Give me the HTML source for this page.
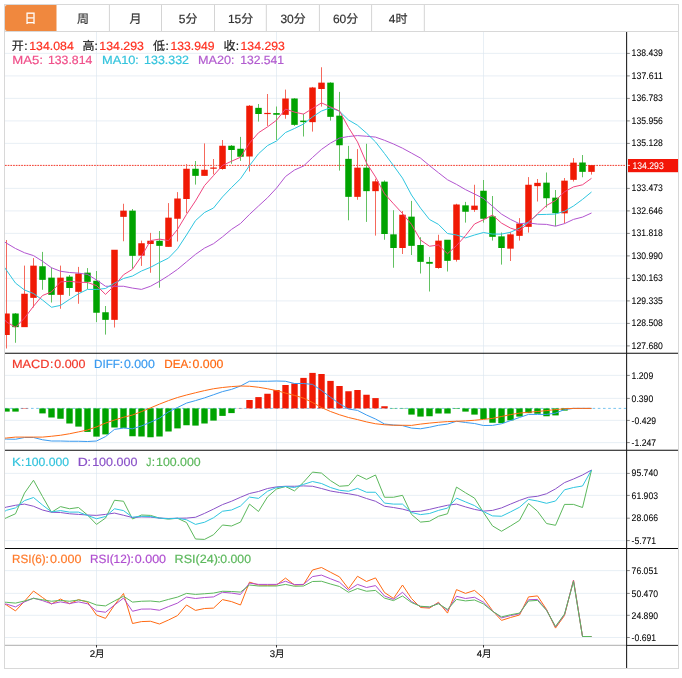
<!DOCTYPE html>
<html lang="zh-CN">
<head>
<meta charset="utf-8">
<title>K线图</title>
<style>
html,body{margin:0;padding:0;background:#fff;}
body{width:682px;height:678px;overflow:hidden;}
svg{display:block;}
text{font-family:"Liberation Sans", "Noto Sans CJK SC", sans-serif;text-rendering:geometricPrecision;}
.t12{font-size:12px;}
.t12 text{stroke-width:0.2px;}
.ax{font-size:9.6px;fill:#000;stroke:#000;stroke-width:0.07px;}
.grid line{stroke:#dce7ef;stroke-width:0.65;}
.ln{fill:none;stroke-width:1;stroke-linejoin:round;}
</style>
</head>
<body>
<svg width="682" height="678" viewBox="0 0 682 678">
<defs><clipPath id="plot"><rect x="5" y="32" width="621" height="613"/></clipPath></defs>
<rect x="0" y="0" width="682" height="678" fill="#ffffff"/>

<rect x="4.5" y="4.5" width="674" height="664" fill="none" stroke="#d8d8d8" stroke-width="1"/>
<g id="tabs">
<path d="M5 7 Q5 5 7 5 H56.5 V31 H7 Q5 31 5 29 Z" fill="#f0883e"/>
<line x1="5" y1="31.5" x2="678" y2="31.5" stroke="#d8d8d8" stroke-width="1"/>
<line x1="109.40" y1="5" x2="109.40" y2="31" stroke="#d4d4d4" stroke-width="1"/>
<line x1="161.50" y1="5" x2="161.50" y2="31" stroke="#d4d4d4" stroke-width="1"/>
<line x1="214.50" y1="5" x2="214.50" y2="31" stroke="#d4d4d4" stroke-width="1"/>
<line x1="266.30" y1="5" x2="266.30" y2="31" stroke="#d4d4d4" stroke-width="1"/>
<line x1="319.40" y1="5" x2="319.40" y2="31" stroke="#d4d4d4" stroke-width="1"/>
<line x1="371.60" y1="5" x2="371.60" y2="31" stroke="#d4d4d4" stroke-width="1"/>
<line x1="424.30" y1="5" x2="424.30" y2="31" stroke="#d4d4d4" stroke-width="1"/>
<text transform="translate(30.6 23.0) scale(1 1.1)" x="0" y="0" text-anchor="middle" class="t12" fill="#ffffff" stroke="#ffffff" stroke-width="0.2">日</text>
<text x="83.1" y="22.6" text-anchor="middle" class="t12" fill="#333333" stroke="#333333" stroke-width="0.2">周</text>
<text x="135.6" y="22.6" text-anchor="middle" class="t12" fill="#333333" stroke="#333333" stroke-width="0.2">月</text>
<text x="188.1" y="22.6" text-anchor="middle" class="t12" fill="#333333" stroke="#333333" stroke-width="0.2">5分</text>
<text x="240.6" y="22.6" text-anchor="middle" class="t12" fill="#333333" stroke="#333333" stroke-width="0.2">15分</text>
<text x="293.1" y="22.6" text-anchor="middle" class="t12" fill="#333333" stroke="#333333" stroke-width="0.2">30分</text>
<text x="345.6" y="22.6" text-anchor="middle" class="t12" fill="#333333" stroke="#333333" stroke-width="0.2">60分</text>
<text x="398.1" y="22.6" text-anchor="middle" class="t12" fill="#333333" stroke="#333333" stroke-width="0.2">4时</text>
</g>
<g class="grid">
<line x1="5" y1="53.40" x2="625.5" y2="53.40"/>
<line x1="5" y1="75.90" x2="625.5" y2="75.90"/>
<line x1="5" y1="98.40" x2="625.5" y2="98.40"/>
<line x1="5" y1="120.90" x2="625.5" y2="120.90"/>
<line x1="5" y1="143.40" x2="625.5" y2="143.40"/>
<line x1="5" y1="188.40" x2="625.5" y2="188.40"/>
<line x1="5" y1="210.90" x2="625.5" y2="210.90"/>
<line x1="5" y1="233.40" x2="625.5" y2="233.40"/>
<line x1="5" y1="255.90" x2="625.5" y2="255.90"/>
<line x1="5" y1="278.40" x2="625.5" y2="278.40"/>
<line x1="5" y1="300.90" x2="625.5" y2="300.90"/>
<line x1="5" y1="323.40" x2="625.5" y2="323.40"/>
<line x1="5" y1="345.90" x2="625.5" y2="345.90"/>
<line x1="5" y1="375.40" x2="625.5" y2="375.40"/>
<line x1="5" y1="398.40" x2="625.5" y2="398.40"/>
<line x1="5" y1="420.40" x2="625.5" y2="420.40"/>
<line x1="5" y1="442.60" x2="625.5" y2="442.60"/>
<line x1="5" y1="473.40" x2="625.5" y2="473.40"/>
<line x1="5" y1="495.40" x2="625.5" y2="495.40"/>
<line x1="5" y1="518.20" x2="625.5" y2="518.20"/>
<line x1="5" y1="540.60" x2="625.5" y2="540.60"/>
<line x1="5" y1="570.60" x2="625.5" y2="570.60"/>
<line x1="5" y1="593.40" x2="625.5" y2="593.40"/>
<line x1="5" y1="615.30" x2="625.5" y2="615.30"/>
<line x1="5" y1="637.50" x2="625.5" y2="637.50"/>
<line x1="96.5" y1="32" x2="96.5" y2="645"/>
<line x1="276.5" y1="32" x2="276.5" y2="645"/>
<line x1="483.5" y1="32" x2="483.5" y2="645"/>
</g>
<line x1="5" y1="165.4" x2="626" y2="165.4" stroke="#f23a2c" stroke-width="1" stroke-dasharray="1.7 1.0"/>
<g clip-path="url(#plot)">
<g id="candles">
<line x1="6.5" y1="240.00" x2="6.5" y2="348.50" stroke="#f5695c" stroke-width="1"/>
<rect x="3.25" y="313.50" width="6.5" height="21.50" fill="#f01a05"/>
<line x1="15.5" y1="313.00" x2="15.5" y2="342.75" stroke="#62c162" stroke-width="1"/>
<rect x="12.25" y="313.50" width="6.5" height="13.65" fill="#00a300"/>
<line x1="24.5" y1="265.60" x2="24.5" y2="326.90" stroke="#f5695c" stroke-width="1"/>
<rect x="21.25" y="293.75" width="6.5" height="33.40" fill="#f01a05"/>
<line x1="33.5" y1="258.10" x2="33.5" y2="307.50" stroke="#f5695c" stroke-width="1"/>
<rect x="30.25" y="265.65" width="6.5" height="32.20" fill="#f01a05"/>
<line x1="42.5" y1="251.90" x2="42.5" y2="289.75" stroke="#62c162" stroke-width="1"/>
<rect x="39.25" y="266.25" width="6.5" height="13.60" fill="#00a300"/>
<line x1="51.5" y1="267.50" x2="51.5" y2="302.50" stroke="#62c162" stroke-width="1"/>
<rect x="48.25" y="277.65" width="6.5" height="17.20" fill="#00a300"/>
<line x1="60.5" y1="265.60" x2="60.5" y2="308.75" stroke="#f5695c" stroke-width="1"/>
<rect x="57.25" y="277.65" width="6.5" height="17.20" fill="#f01a05"/>
<line x1="69.5" y1="275.00" x2="69.5" y2="295.90" stroke="#62c162" stroke-width="1"/>
<rect x="66.25" y="276.65" width="6.5" height="11.35" fill="#00a300"/>
<line x1="78.5" y1="266.90" x2="78.5" y2="303.75" stroke="#f5695c" stroke-width="1"/>
<rect x="75.25" y="273.50" width="6.5" height="18.35" fill="#f01a05"/>
<line x1="87.5" y1="268.10" x2="87.5" y2="289.00" stroke="#62c162" stroke-width="1"/>
<rect x="84.25" y="272.65" width="6.5" height="9.20" fill="#00a300"/>
<line x1="96.5" y1="271.00" x2="96.5" y2="322.10" stroke="#62c162" stroke-width="1"/>
<rect x="93.25" y="280.75" width="6.5" height="32.00" fill="#00a300"/>
<line x1="105.5" y1="306.00" x2="105.5" y2="334.60" stroke="#62c162" stroke-width="1"/>
<rect x="102.25" y="312.25" width="6.5" height="7.60" fill="#00a300"/>
<line x1="114.5" y1="250.00" x2="114.5" y2="327.50" stroke="#f5695c" stroke-width="1"/>
<rect x="111.25" y="249.75" width="6.5" height="70.10" fill="#f01a05"/>
<line x1="123.5" y1="203.75" x2="123.5" y2="241.25" stroke="#f5695c" stroke-width="1"/>
<rect x="120.25" y="210.65" width="6.5" height="6.20" fill="#f01a05"/>
<line x1="132.5" y1="209.00" x2="132.5" y2="268.75" stroke="#62c162" stroke-width="1"/>
<rect x="129.25" y="210.65" width="6.5" height="45.20" fill="#00a300"/>
<line x1="141.5" y1="240.60" x2="141.5" y2="265.90" stroke="#f5695c" stroke-width="1"/>
<rect x="138.25" y="243.25" width="6.5" height="12.40" fill="#f01a05"/>
<line x1="150.5" y1="232.90" x2="150.5" y2="272.75" stroke="#f5695c" stroke-width="1"/>
<rect x="147.25" y="240.75" width="6.5" height="3.25" fill="#f01a05"/>
<line x1="159.5" y1="231.00" x2="159.5" y2="287.75" stroke="#62c162" stroke-width="1"/>
<rect x="156.25" y="240.75" width="6.5" height="5.10" fill="#00a300"/>
<line x1="168.5" y1="203.10" x2="168.5" y2="246.60" stroke="#f5695c" stroke-width="1"/>
<rect x="165.25" y="217.65" width="6.5" height="29.20" fill="#f01a05"/>
<line x1="177.5" y1="192.10" x2="177.5" y2="241.50" stroke="#f5695c" stroke-width="1"/>
<rect x="174.25" y="198.50" width="6.5" height="20.25" fill="#f01a05"/>
<line x1="186.5" y1="164.00" x2="186.5" y2="213.10" stroke="#f5695c" stroke-width="1"/>
<rect x="183.25" y="168.75" width="6.5" height="30.25" fill="#f01a05"/>
<line x1="195.5" y1="161.00" x2="195.5" y2="184.60" stroke="#62c162" stroke-width="1"/>
<rect x="192.25" y="168.75" width="6.5" height="7.10" fill="#00a300"/>
<line x1="204.5" y1="143.40" x2="204.5" y2="175.60" stroke="#f5695c" stroke-width="1"/>
<rect x="201.25" y="169.75" width="6.5" height="6.10" fill="#f01a05"/>
<line x1="213.5" y1="159.00" x2="213.5" y2="174.40" stroke="#f5695c" stroke-width="1"/>
<rect x="210.25" y="167.50" width="6.5" height="1.25" fill="#f01a05"/>
<line x1="222.5" y1="140.00" x2="222.5" y2="169.75" stroke="#f5695c" stroke-width="1"/>
<rect x="219.25" y="145.75" width="6.5" height="23.25" fill="#f01a05"/>
<line x1="231.5" y1="145.00" x2="231.5" y2="163.75" stroke="#62c162" stroke-width="1"/>
<rect x="228.25" y="145.75" width="6.5" height="4.25" fill="#00a300"/>
<line x1="240.5" y1="136.90" x2="240.5" y2="160.90" stroke="#62c162" stroke-width="1"/>
<rect x="237.25" y="148.75" width="6.5" height="8.00" fill="#00a300"/>
<line x1="249.5" y1="105.00" x2="249.5" y2="171.50" stroke="#f5695c" stroke-width="1"/>
<rect x="246.25" y="105.75" width="6.5" height="50.75" fill="#f01a05"/>
<line x1="258.5" y1="104.00" x2="258.5" y2="121.60" stroke="#62c162" stroke-width="1"/>
<rect x="255.25" y="107.85" width="6.5" height="6.15" fill="#00a300"/>
<line x1="267.5" y1="94.00" x2="267.5" y2="125.90" stroke="#f5695c" stroke-width="1"/>
<rect x="264.25" y="112.90" width="6.5" height="1.20" fill="#f01a05"/>
<line x1="276.5" y1="106.50" x2="276.5" y2="140.00" stroke="#62c162" stroke-width="1"/>
<rect x="273.25" y="113.10" width="6.5" height="1.65" fill="#00a300"/>
<line x1="285.5" y1="89.60" x2="285.5" y2="118.75" stroke="#f5695c" stroke-width="1"/>
<rect x="282.25" y="98.50" width="6.5" height="16.35" fill="#f01a05"/>
<line x1="294.5" y1="98.10" x2="294.5" y2="125.90" stroke="#62c162" stroke-width="1"/>
<rect x="291.25" y="98.50" width="6.5" height="26.35" fill="#00a300"/>
<line x1="303.5" y1="113.75" x2="303.5" y2="136.50" stroke="#62c162" stroke-width="1"/>
<rect x="300.25" y="120.60" width="6.5" height="1.50" fill="#00a300"/>
<line x1="312.5" y1="86.90" x2="312.5" y2="131.60" stroke="#f5695c" stroke-width="1"/>
<rect x="309.25" y="87.50" width="6.5" height="34.65" fill="#f01a05"/>
<line x1="321.5" y1="67.25" x2="321.5" y2="106.60" stroke="#f5695c" stroke-width="1"/>
<rect x="318.25" y="82.65" width="6.5" height="6.35" fill="#f01a05"/>
<line x1="330.5" y1="82.25" x2="330.5" y2="120.60" stroke="#62c162" stroke-width="1"/>
<rect x="327.25" y="82.65" width="6.5" height="34.20" fill="#00a300"/>
<line x1="339.5" y1="91.90" x2="339.5" y2="170.60" stroke="#62c162" stroke-width="1"/>
<rect x="336.25" y="115.65" width="6.5" height="29.60" fill="#00a300"/>
<line x1="348.5" y1="145.90" x2="348.5" y2="220.30" stroke="#62c162" stroke-width="1"/>
<rect x="345.25" y="158.85" width="6.5" height="38.00" fill="#00a300"/>
<line x1="357.5" y1="149.10" x2="357.5" y2="199.75" stroke="#f5695c" stroke-width="1"/>
<rect x="354.25" y="167.65" width="6.5" height="29.20" fill="#f01a05"/>
<line x1="366.5" y1="143.75" x2="366.5" y2="221.90" stroke="#62c162" stroke-width="1"/>
<rect x="363.25" y="167.65" width="6.5" height="23.50" fill="#00a300"/>
<line x1="375.5" y1="178.75" x2="375.5" y2="235.60" stroke="#f5695c" stroke-width="1"/>
<rect x="372.25" y="181.35" width="6.5" height="9.80" fill="#f01a05"/>
<line x1="384.5" y1="180.40" x2="384.5" y2="239.75" stroke="#62c162" stroke-width="1"/>
<rect x="381.25" y="181.65" width="6.5" height="52.35" fill="#00a300"/>
<line x1="393.5" y1="210.20" x2="393.5" y2="267.75" stroke="#62c162" stroke-width="1"/>
<rect x="390.25" y="234.35" width="6.5" height="13.65" fill="#00a300"/>
<line x1="402.5" y1="211.00" x2="402.5" y2="254.00" stroke="#f5695c" stroke-width="1"/>
<rect x="399.25" y="214.75" width="6.5" height="33.25" fill="#f01a05"/>
<line x1="411.5" y1="200.90" x2="411.5" y2="255.00" stroke="#62c162" stroke-width="1"/>
<rect x="408.25" y="216.65" width="6.5" height="29.20" fill="#00a300"/>
<line x1="420.5" y1="237.25" x2="420.5" y2="273.50" stroke="#62c162" stroke-width="1"/>
<rect x="417.25" y="245.00" width="6.5" height="16.85" fill="#00a300"/>
<line x1="429.5" y1="256.90" x2="429.5" y2="291.50" stroke="#62c162" stroke-width="1"/>
<rect x="426.25" y="261.90" width="6.5" height="1.85" fill="#00a300"/>
<line x1="438.5" y1="234.75" x2="438.5" y2="268.75" stroke="#f5695c" stroke-width="1"/>
<rect x="435.25" y="240.65" width="6.5" height="27.35" fill="#f01a05"/>
<line x1="447.5" y1="240.00" x2="447.5" y2="271.50" stroke="#62c162" stroke-width="1"/>
<rect x="444.25" y="239.75" width="6.5" height="21.10" fill="#00a300"/>
<line x1="456.5" y1="203.75" x2="456.5" y2="261.60" stroke="#f5695c" stroke-width="1"/>
<rect x="453.25" y="204.50" width="6.5" height="55.35" fill="#f01a05"/>
<line x1="465.5" y1="201.90" x2="465.5" y2="222.60" stroke="#62c162" stroke-width="1"/>
<rect x="462.25" y="205.35" width="6.5" height="6.40" fill="#00a300"/>
<line x1="474.5" y1="184.75" x2="474.5" y2="211.90" stroke="#f5695c" stroke-width="1"/>
<rect x="471.25" y="205.65" width="6.5" height="4.20" fill="#f01a05"/>
<line x1="483.5" y1="180.00" x2="483.5" y2="222.60" stroke="#62c162" stroke-width="1"/>
<rect x="480.25" y="190.75" width="6.5" height="28.00" fill="#00a300"/>
<line x1="492.5" y1="196.00" x2="492.5" y2="240.60" stroke="#62c162" stroke-width="1"/>
<rect x="489.25" y="216.35" width="6.5" height="20.50" fill="#00a300"/>
<line x1="501.5" y1="232.50" x2="501.5" y2="264.60" stroke="#62c162" stroke-width="1"/>
<rect x="498.25" y="236.35" width="6.5" height="11.65" fill="#00a300"/>
<line x1="510.5" y1="231.90" x2="510.5" y2="261.00" stroke="#f5695c" stroke-width="1"/>
<rect x="507.25" y="234.35" width="6.5" height="14.30" fill="#f01a05"/>
<line x1="519.5" y1="218.10" x2="519.5" y2="240.60" stroke="#f5695c" stroke-width="1"/>
<rect x="516.25" y="223.50" width="6.5" height="12.35" fill="#f01a05"/>
<line x1="528.5" y1="177.10" x2="528.5" y2="232.60" stroke="#f5695c" stroke-width="1"/>
<rect x="525.25" y="184.75" width="6.5" height="42.10" fill="#f01a05"/>
<line x1="537.5" y1="179.00" x2="537.5" y2="201.50" stroke="#f5695c" stroke-width="1"/>
<rect x="534.25" y="182.85" width="6.5" height="3.30" fill="#f01a05"/>
<line x1="546.5" y1="172.50" x2="546.5" y2="207.50" stroke="#62c162" stroke-width="1"/>
<rect x="543.25" y="182.65" width="6.5" height="15.60" fill="#00a300"/>
<line x1="555.5" y1="190.00" x2="555.5" y2="226.20" stroke="#62c162" stroke-width="1"/>
<rect x="552.25" y="197.65" width="6.5" height="15.50" fill="#00a300"/>
<line x1="564.5" y1="178.00" x2="564.5" y2="223.50" stroke="#f5695c" stroke-width="1"/>
<rect x="561.25" y="180.65" width="6.5" height="32.70" fill="#f01a05"/>
<line x1="573.5" y1="158.10" x2="573.5" y2="181.50" stroke="#f5695c" stroke-width="1"/>
<rect x="570.25" y="162.65" width="6.5" height="17.20" fill="#f01a05"/>
<line x1="582.5" y1="155.00" x2="582.5" y2="177.25" stroke="#62c162" stroke-width="1"/>
<rect x="579.25" y="162.50" width="6.5" height="9.35" fill="#00a300"/>
<line x1="591.5" y1="165.40" x2="591.5" y2="174.60" stroke="#f5695c" stroke-width="1"/>
<rect x="588.25" y="165.15" width="6.5" height="6.70" fill="#f01a05"/>
</g>
<polyline class="ln" stroke="#b255d0" points="-2.5,237.00 6.5,243.20 15.5,248.50 24.5,252.75 33.5,255.60 42.5,261.25 51.5,267.75 60.5,271.25 69.5,272.50 78.5,273.10 87.5,274.40 96.5,280.00 105.5,286.25 114.5,286.25 123.5,286.25 132.5,288.10 141.5,289.40 150.5,286.25 159.5,281.25 168.5,275.60 177.5,269.35 186.5,261.85 195.5,254.35 204.5,248.10 213.5,243.70 222.5,236.85 231.5,229.40 240.5,223.50 249.5,214.40 258.5,206.00 267.5,197.75 276.5,188.10 285.5,176.50 294.5,170.00 303.5,166.00 312.5,157.50 321.5,149.40 330.5,143.10 339.5,138.10 348.5,136.50 357.5,135.60 366.5,136.25 375.5,137.10 384.5,140.30 393.5,144.00 402.5,148.20 411.5,153.10 420.5,158.10 429.5,165.60 438.5,172.75 447.5,179.75 456.5,184.40 465.5,189.60 474.5,194.00 483.5,198.50 492.5,206.25 501.5,214.10 510.5,219.40 519.5,223.75 528.5,222.90 537.5,224.10 546.5,224.40 555.5,226.20 564.5,223.60 573.5,219.40 582.5,217.10 591.5,213.00"/>
<polyline class="ln" stroke="#2fc6e0" points="-2.5,257.40 6.5,270.25 15.5,283.10 24.5,290.00 33.5,293.50 42.5,300.00 51.5,307.25 60.5,305.40 69.5,299.40 78.5,293.75 87.5,289.40 96.5,289.40 105.5,288.50 114.5,283.10 123.5,278.50 132.5,276.00 141.5,271.00 150.5,267.30 159.5,262.50 168.5,258.10 177.5,248.75 186.5,235.00 195.5,220.60 204.5,212.50 213.5,208.00 222.5,196.90 231.5,187.50 240.5,178.75 249.5,165.60 258.5,153.75 267.5,145.60 276.5,141.00 285.5,132.50 294.5,128.50 303.5,124.00 312.5,116.90 321.5,111.00 330.5,107.75 339.5,111.25 348.5,120.00 357.5,125.25 366.5,133.10 375.5,141.90 384.5,153.50 393.5,165.60 402.5,178.10 411.5,195.00 420.5,208.10 429.5,219.50 438.5,224.40 447.5,233.50 456.5,235.00 465.5,237.90 474.5,235.00 483.5,232.50 492.5,234.10 501.5,234.10 510.5,232.25 519.5,228.10 528.5,221.90 537.5,214.60 546.5,214.40 555.5,214.00 564.5,211.25 573.5,206.00 582.5,199.40 591.5,192.00"/>
<polyline class="ln" stroke="#f0457f" points="-2.5,310.50 6.5,322.00 15.5,327.25 24.5,318.10 33.5,306.25 42.5,295.50 51.5,291.90 60.5,281.90 69.5,281.25 78.5,282.25 87.5,282.50 96.5,285.60 105.5,294.40 114.5,285.60 123.5,274.75 132.5,269.25 141.5,256.25 150.5,240.60 159.5,239.10 168.5,240.60 177.5,229.40 186.5,214.40 195.5,200.90 204.5,185.60 213.5,175.60 222.5,165.40 231.5,161.25 240.5,157.25 249.5,143.10 258.5,132.75 267.5,126.90 276.5,120.25 285.5,109.10 294.5,112.10 303.5,114.10 312.5,108.50 321.5,102.90 330.5,106.90 339.5,111.00 348.5,127.50 357.5,141.90 366.5,162.90 375.5,176.90 384.5,193.75 393.5,203.75 402.5,213.50 411.5,224.40 420.5,240.00 429.5,246.25 438.5,245.00 447.5,253.75 456.5,245.60 465.5,235.60 474.5,224.00 483.5,219.75 492.5,215.00 501.5,223.10 510.5,228.10 519.5,231.00 528.5,222.75 537.5,213.75 546.5,205.50 555.5,200.50 564.5,191.80 573.5,186.90 582.5,184.80 591.5,178.30"/>
<g id="macd">
<line x1="5" y1="408.4" x2="626" y2="408.4" stroke="#6bbdec" stroke-width="0.9" stroke-dasharray="2.6 2.6"/>
<rect x="3.30" y="408.40" width="6.4" height="3.20" fill="#00a300"/>
<rect x="12.30" y="408.40" width="6.4" height="3.20" fill="#00a300"/>
<rect x="21.30" y="408.00" width="6.4" height="0.40" fill="#f01a05"/>
<rect x="39.30" y="408.40" width="6.4" height="5.00" fill="#00a300"/>
<rect x="48.30" y="408.40" width="6.4" height="9.10" fill="#00a300"/>
<rect x="57.30" y="408.40" width="6.4" height="10.35" fill="#00a300"/>
<rect x="66.30" y="408.40" width="6.4" height="15.10" fill="#00a300"/>
<rect x="75.30" y="408.40" width="6.4" height="18.20" fill="#00a300"/>
<rect x="84.30" y="408.40" width="6.4" height="23.50" fill="#00a300"/>
<rect x="93.30" y="408.40" width="6.4" height="28.20" fill="#00a300"/>
<rect x="102.30" y="408.40" width="6.4" height="26.00" fill="#00a300"/>
<rect x="111.30" y="408.40" width="6.4" height="19.10" fill="#00a300"/>
<rect x="120.30" y="408.40" width="6.4" height="19.50" fill="#00a300"/>
<rect x="129.30" y="408.40" width="6.4" height="27.85" fill="#00a300"/>
<rect x="138.30" y="408.40" width="6.4" height="28.10" fill="#00a300"/>
<rect x="147.30" y="408.40" width="6.4" height="28.85" fill="#00a300"/>
<rect x="156.30" y="408.40" width="6.4" height="28.10" fill="#00a300"/>
<rect x="165.30" y="408.40" width="6.4" height="23.10" fill="#00a300"/>
<rect x="174.30" y="408.40" width="6.4" height="20.00" fill="#00a300"/>
<rect x="183.30" y="408.40" width="6.4" height="16.85" fill="#00a300"/>
<rect x="192.30" y="408.40" width="6.4" height="17.20" fill="#00a300"/>
<rect x="201.30" y="408.40" width="6.4" height="15.10" fill="#00a300"/>
<rect x="210.30" y="408.40" width="6.4" height="12.20" fill="#00a300"/>
<rect x="219.30" y="408.40" width="6.4" height="7.50" fill="#00a300"/>
<rect x="228.30" y="408.40" width="6.4" height="4.70" fill="#00a300"/>
<rect x="237.30" y="408.20" width="6.4" height="0.20" fill="#f01a05"/>
<rect x="246.30" y="400.00" width="6.4" height="8.40" fill="#f01a05"/>
<rect x="255.30" y="397.10" width="6.4" height="11.30" fill="#f01a05"/>
<rect x="264.30" y="393.75" width="6.4" height="14.65" fill="#f01a05"/>
<rect x="273.30" y="390.00" width="6.4" height="18.40" fill="#f01a05"/>
<rect x="282.30" y="385.00" width="6.4" height="23.40" fill="#f01a05"/>
<rect x="291.30" y="383.50" width="6.4" height="24.90" fill="#f01a05"/>
<rect x="300.30" y="377.90" width="6.4" height="30.50" fill="#f01a05"/>
<rect x="309.30" y="372.90" width="6.4" height="35.50" fill="#f01a05"/>
<rect x="318.30" y="374.00" width="6.4" height="34.40" fill="#f01a05"/>
<rect x="327.30" y="380.90" width="6.4" height="27.50" fill="#f01a05"/>
<rect x="336.30" y="386.00" width="6.4" height="22.40" fill="#f01a05"/>
<rect x="345.30" y="391.25" width="6.4" height="17.15" fill="#f01a05"/>
<rect x="354.30" y="390.00" width="6.4" height="18.40" fill="#f01a05"/>
<rect x="363.30" y="394.75" width="6.4" height="13.65" fill="#f01a05"/>
<rect x="372.30" y="398.10" width="6.4" height="10.30" fill="#f01a05"/>
<rect x="381.30" y="406.25" width="6.4" height="2.15" fill="#f01a05"/>
<rect x="390.30" y="408.40" width="6.4" height="0.30" fill="#00a300"/>
<rect x="399.30" y="408.40" width="6.4" height="0.30" fill="#00a300"/>
<rect x="408.30" y="408.40" width="6.4" height="6.20" fill="#00a300"/>
<rect x="417.30" y="408.40" width="6.4" height="8.20" fill="#00a300"/>
<rect x="426.30" y="408.40" width="6.4" height="7.85" fill="#00a300"/>
<rect x="435.30" y="408.40" width="6.4" height="5.10" fill="#00a300"/>
<rect x="444.30" y="408.40" width="6.4" height="5.10" fill="#00a300"/>
<rect x="453.30" y="408.40" width="6.4" height="0.50" fill="#00a300"/>
<rect x="462.30" y="408.40" width="6.4" height="3.20" fill="#00a300"/>
<rect x="471.30" y="408.40" width="6.4" height="6.20" fill="#00a300"/>
<rect x="480.30" y="408.40" width="6.4" height="10.60" fill="#00a300"/>
<rect x="489.30" y="408.40" width="6.4" height="14.35" fill="#00a300"/>
<rect x="498.30" y="408.40" width="6.4" height="14.70" fill="#00a300"/>
<rect x="507.30" y="408.40" width="6.4" height="12.00" fill="#00a300"/>
<rect x="516.30" y="408.40" width="6.4" height="8.20" fill="#00a300"/>
<rect x="525.30" y="408.40" width="6.4" height="4.70" fill="#00a300"/>
<rect x="534.30" y="408.40" width="6.4" height="5.35" fill="#00a300"/>
<rect x="543.30" y="408.40" width="6.4" height="7.85" fill="#00a300"/>
<rect x="552.30" y="408.40" width="6.4" height="7.00" fill="#00a300"/>
<rect x="561.30" y="408.40" width="6.4" height="2.20" fill="#00a300"/>
<polyline class="ln" stroke="#3a9bf0" points="-2.5,439.00 6.5,439.10 15.5,439.25 24.5,437.50 33.5,437.50 42.5,439.75 51.5,441.00 60.5,441.00 69.5,441.25 78.5,441.25 87.5,441.50 96.5,441.00 105.5,436.60 114.5,429.40 123.5,428.10 132.5,428.75 141.5,425.90 150.5,422.25 159.5,418.10 168.5,411.90 177.5,407.50 186.5,403.10 195.5,400.60 204.5,397.90 213.5,394.75 222.5,391.60 231.5,389.40 240.5,386.00 249.5,381.25 258.5,381.25 267.5,381.25 276.5,381.00 285.5,381.25 294.5,383.50 303.5,383.50 312.5,384.40 321.5,390.50 330.5,397.25 339.5,403.75 348.5,409.00 357.5,410.40 366.5,415.00 375.5,419.00 384.5,424.00 393.5,425.00 402.5,425.60 411.5,428.10 420.5,428.75 429.5,427.25 438.5,425.25 447.5,424.10 456.5,421.25 465.5,422.50 474.5,423.50 483.5,425.50 492.5,425.40 501.5,423.75 510.5,420.60 519.5,417.50 528.5,414.40 537.5,414.40 546.5,414.40 555.5,413.10 564.5,409.60 573.5,408.40 582.5,408.40 591.5,408.40"/>
<polyline class="ln" stroke="#ff6a13" points="-2.5,438.60 6.5,438.00 15.5,437.10 24.5,437.10 33.5,437.10 42.5,437.10 51.5,436.25 60.5,435.25 69.5,433.75 78.5,431.90 87.5,430.00 96.5,426.90 105.5,423.10 114.5,420.00 123.5,417.25 132.5,415.00 141.5,411.60 150.5,407.90 159.5,404.10 168.5,400.60 177.5,397.50 186.5,395.00 195.5,392.75 204.5,390.60 213.5,388.75 222.5,387.50 231.5,386.60 240.5,386.00 249.5,386.25 258.5,387.25 267.5,388.75 276.5,390.60 285.5,393.10 294.5,395.40 303.5,398.10 312.5,402.50 321.5,407.50 330.5,411.50 339.5,414.75 348.5,417.50 357.5,419.60 366.5,421.90 375.5,423.75 384.5,424.75 393.5,425.25 402.5,425.25 411.5,425.40 420.5,424.10 429.5,423.10 438.5,422.25 447.5,421.60 456.5,421.25 465.5,420.90 474.5,420.25 483.5,419.40 492.5,418.40 501.5,416.50 510.5,414.60 519.5,413.10 528.5,412.25 537.5,411.50 546.5,410.60 555.5,409.60 564.5,408.75 573.5,408.40 582.5,408.40 591.5,408.40"/>
</g>
<g id="kdj">
<polyline class="ln" stroke="#5cb85c" points="-2.5,522.00 6.5,517.75 15.5,513.75 24.5,493.10 33.5,480.25 42.5,496.50 51.5,512.25 60.5,506.60 69.5,508.75 78.5,507.50 87.5,515.00 96.5,524.40 105.5,518.10 114.5,500.25 123.5,501.25 132.5,519.00 141.5,515.00 150.5,515.40 159.5,518.10 168.5,519.10 177.5,518.25 186.5,522.50 195.5,539.00 204.5,539.40 213.5,534.75 222.5,525.00 231.5,526.00 240.5,522.10 249.5,504.10 258.5,511.50 267.5,496.90 276.5,489.00 285.5,486.50 294.5,490.90 303.5,482.25 312.5,472.10 321.5,473.10 330.5,480.60 339.5,486.25 348.5,485.60 357.5,475.00 366.5,479.40 375.5,475.00 384.5,497.25 393.5,497.25 402.5,495.30 411.5,514.40 420.5,522.10 429.5,521.25 438.5,516.25 447.5,513.75 456.5,487.10 465.5,492.75 474.5,498.10 483.5,512.50 492.5,525.90 501.5,531.25 510.5,526.00 519.5,520.40 528.5,503.50 537.5,511.25 546.5,523.50 555.5,525.30 564.5,504.40 573.5,504.40 582.5,507.50 591.5,470.00"/>
<polyline class="ln" stroke="#8a52c8" points="-2.5,509.50 6.5,507.10 15.5,505.25 24.5,504.10 33.5,506.25 42.5,510.00 51.5,512.25 60.5,512.50 69.5,513.75 78.5,514.40 87.5,515.00 96.5,515.40 105.5,514.40 114.5,513.10 123.5,515.25 132.5,517.50 141.5,516.90 150.5,517.10 159.5,518.10 168.5,518.50 177.5,518.25 186.5,518.10 195.5,517.25 204.5,513.40 213.5,509.10 222.5,504.60 231.5,501.25 240.5,497.25 249.5,493.50 258.5,491.50 267.5,488.50 276.5,486.90 285.5,486.25 294.5,486.25 303.5,485.90 312.5,486.25 321.5,488.50 330.5,491.00 339.5,492.50 348.5,493.75 357.5,495.40 366.5,498.50 375.5,501.25 384.5,506.25 393.5,507.50 402.5,509.10 411.5,511.50 420.5,511.25 429.5,509.40 438.5,507.25 447.5,505.25 456.5,504.10 465.5,506.90 474.5,509.40 483.5,511.10 492.5,510.40 501.5,507.90 510.5,504.10 519.5,500.40 528.5,497.25 537.5,496.25 546.5,493.75 555.5,488.90 564.5,482.60 573.5,479.00 582.5,475.00 591.5,470.00"/>
<polyline class="ln" stroke="#2fc6e0" points="-2.5,516.00 6.5,510.25 15.5,507.90 24.5,500.60 33.5,497.50 42.5,505.00 51.5,511.90 60.5,510.60 69.5,512.10 78.5,512.10 87.5,515.40 96.5,518.75 105.5,516.50 114.5,508.75 123.5,510.60 132.5,517.25 141.5,516.25 150.5,516.50 159.5,518.10 168.5,518.75 177.5,518.25 186.5,519.75 195.5,524.40 204.5,522.25 213.5,517.75 222.5,511.25 231.5,510.00 240.5,506.00 249.5,497.10 258.5,498.40 267.5,491.25 276.5,487.50 285.5,486.50 294.5,487.50 303.5,484.40 312.5,481.50 321.5,483.50 330.5,487.50 339.5,490.25 348.5,491.25 357.5,488.40 366.5,492.25 375.5,492.25 384.5,503.10 393.5,504.10 402.5,504.10 411.5,512.50 420.5,514.60 429.5,513.50 438.5,510.40 447.5,508.10 456.5,498.10 465.5,501.90 474.5,505.60 483.5,511.60 492.5,515.90 501.5,516.25 510.5,511.90 519.5,507.25 528.5,499.40 537.5,501.00 546.5,503.30 555.5,501.00 564.5,489.80 573.5,487.50 582.5,486.00 591.5,470.00"/>
</g>
<g id="rsi">
<polyline class="ln" stroke="#ff6a13" points="-2.5,601.50 6.5,605.00 15.5,610.90 24.5,601.25 33.5,591.00 42.5,597.50 51.5,604.00 60.5,599.00 69.5,603.75 78.5,599.60 87.5,602.10 96.5,615.00 105.5,618.40 114.5,605.00 123.5,593.50 132.5,623.50 141.5,621.60 150.5,621.25 159.5,624.00 168.5,620.00 177.5,615.60 186.5,605.00 195.5,610.40 204.5,608.50 213.5,608.10 222.5,599.60 231.5,601.60 240.5,605.00 249.5,582.10 258.5,585.00 267.5,585.25 276.5,585.00 285.5,578.10 294.5,585.00 303.5,584.60 312.5,570.00 321.5,567.50 330.5,572.25 339.5,576.90 348.5,588.75 357.5,576.25 366.5,581.50 375.5,577.90 384.5,592.50 393.5,598.40 402.5,585.00 411.5,598.50 420.5,607.50 429.5,608.10 438.5,602.25 447.5,613.10 456.5,589.60 465.5,593.40 474.5,590.40 483.5,598.10 492.5,610.60 501.5,620.40 510.5,617.50 519.5,615.00 528.5,596.90 537.5,595.90 546.5,609.40 555.5,628.10 564.5,615.50 573.5,580.00 582.5,636.50 591.5,636.50"/>
<polyline class="ln" stroke="#b04fd0" points="-2.5,604.10 6.5,604.10 15.5,606.90 24.5,601.90 33.5,598.10 42.5,600.60 51.5,603.75 60.5,601.90 69.5,603.50 78.5,601.90 87.5,603.75 96.5,611.00 105.5,612.25 114.5,605.00 123.5,598.10 132.5,611.25 141.5,609.10 150.5,609.00 159.5,610.25 168.5,606.60 177.5,603.10 186.5,597.10 195.5,598.50 204.5,597.50 213.5,596.90 222.5,592.25 231.5,593.10 240.5,594.40 249.5,583.10 258.5,584.40 267.5,584.40 276.5,584.40 285.5,581.25 294.5,584.60 303.5,584.40 312.5,576.60 321.5,575.10 330.5,578.75 339.5,582.25 348.5,590.25 357.5,584.40 366.5,587.50 375.5,585.60 384.5,596.00 393.5,599.40 402.5,592.25 411.5,601.50 420.5,606.50 429.5,607.25 438.5,603.10 447.5,610.60 456.5,596.25 465.5,598.50 474.5,597.25 483.5,602.25 492.5,611.00 501.5,617.90 510.5,615.60 519.5,613.75 528.5,599.75 537.5,599.40 546.5,610.00 555.5,627.00 564.5,614.60 573.5,580.60 582.5,636.50 591.5,636.50"/>
<polyline class="ln" stroke="#5cb85c" points="-2.5,601.80 6.5,602.30 15.5,603.10 24.5,601.00 33.5,598.40 42.5,599.75 51.5,601.25 60.5,600.40 69.5,601.25 78.5,600.00 87.5,601.50 96.5,605.00 105.5,605.90 114.5,600.90 123.5,596.25 132.5,602.10 141.5,601.25 150.5,601.00 159.5,601.90 168.5,599.40 177.5,597.10 186.5,593.40 195.5,594.40 204.5,593.75 213.5,593.10 222.5,591.25 231.5,591.50 240.5,592.10 249.5,585.00 258.5,586.00 267.5,586.00 276.5,586.00 285.5,584.40 294.5,586.25 303.5,586.00 312.5,581.50 321.5,581.25 330.5,584.00 339.5,586.50 348.5,592.25 357.5,588.50 366.5,591.25 375.5,590.40 384.5,598.10 393.5,600.60 402.5,596.00 411.5,602.50 420.5,606.25 429.5,606.90 438.5,603.75 447.5,609.40 456.5,599.40 465.5,600.90 474.5,600.00 483.5,603.90 492.5,611.25 501.5,616.90 510.5,614.75 519.5,613.10 528.5,601.00 537.5,600.40 546.5,610.25 555.5,626.40 564.5,614.00 573.5,581.40 582.5,636.50 591.5,636.50"/>
</g>
</g>
<g id="axes">
<line x1="5" y1="645.4" x2="626" y2="645.4" stroke="#bdbdbd" stroke-width="1.2"/>
<line x1="626" y1="645.4" x2="678" y2="645.4" stroke="#222" stroke-width="1"/>
<line x1="5" y1="353.3" x2="678" y2="353.3" stroke="#0a0a0a" stroke-width="1.05"/>
<line x1="5" y1="450.3" x2="678" y2="450.3" stroke="#0a0a0a" stroke-width="1.05"/>
<line x1="5" y1="548.4" x2="678" y2="548.4" stroke="#0a0a0a" stroke-width="1.05"/>
<line x1="626.6" y1="32" x2="626.6" y2="668" stroke="#222" stroke-width="1.1"/>
<line x1="627" y1="53.40" x2="629.8" y2="53.40" stroke="#555" stroke-width="0.75"/>
<text x="631.6" y="56.25" class="ax" textLength="31.2" lengthAdjust="spacingAndGlyphs">138.439</text>
<line x1="627" y1="75.90" x2="629.8" y2="75.90" stroke="#555" stroke-width="0.75"/>
<text x="631.6" y="78.75" class="ax" textLength="31.2" lengthAdjust="spacingAndGlyphs">137.611</text>
<line x1="627" y1="98.40" x2="629.8" y2="98.40" stroke="#555" stroke-width="0.75"/>
<text x="631.6" y="101.25" class="ax" textLength="31.2" lengthAdjust="spacingAndGlyphs">136.783</text>
<line x1="627" y1="120.90" x2="629.8" y2="120.90" stroke="#555" stroke-width="0.75"/>
<text x="631.6" y="123.75" class="ax" textLength="31.2" lengthAdjust="spacingAndGlyphs">135.956</text>
<line x1="627" y1="143.40" x2="629.8" y2="143.40" stroke="#555" stroke-width="0.75"/>
<text x="631.6" y="146.25" class="ax" textLength="31.2" lengthAdjust="spacingAndGlyphs">135.128</text>
<line x1="627" y1="188.40" x2="629.8" y2="188.40" stroke="#555" stroke-width="0.75"/>
<text x="631.6" y="191.25" class="ax" textLength="31.2" lengthAdjust="spacingAndGlyphs">133.473</text>
<line x1="627" y1="210.90" x2="629.8" y2="210.90" stroke="#555" stroke-width="0.75"/>
<text x="631.6" y="213.75" class="ax" textLength="31.2" lengthAdjust="spacingAndGlyphs">132.646</text>
<line x1="627" y1="233.40" x2="629.8" y2="233.40" stroke="#555" stroke-width="0.75"/>
<text x="631.6" y="236.25" class="ax" textLength="31.2" lengthAdjust="spacingAndGlyphs">131.818</text>
<line x1="627" y1="255.90" x2="629.8" y2="255.90" stroke="#555" stroke-width="0.75"/>
<text x="631.6" y="258.75" class="ax" textLength="31.2" lengthAdjust="spacingAndGlyphs">130.990</text>
<line x1="627" y1="278.40" x2="629.8" y2="278.40" stroke="#555" stroke-width="0.75"/>
<text x="631.6" y="281.25" class="ax" textLength="31.2" lengthAdjust="spacingAndGlyphs">130.163</text>
<line x1="627" y1="300.90" x2="629.8" y2="300.90" stroke="#555" stroke-width="0.75"/>
<text x="631.6" y="303.75" class="ax" textLength="31.2" lengthAdjust="spacingAndGlyphs">129.335</text>
<line x1="627" y1="323.40" x2="629.8" y2="323.40" stroke="#555" stroke-width="0.75"/>
<text x="631.6" y="326.25" class="ax" textLength="31.2" lengthAdjust="spacingAndGlyphs">128.508</text>
<line x1="627" y1="345.90" x2="629.8" y2="345.90" stroke="#555" stroke-width="0.75"/>
<text x="631.6" y="348.75" class="ax" textLength="31.2" lengthAdjust="spacingAndGlyphs">127.680</text>
<line x1="627" y1="375.40" x2="629.8" y2="375.40" stroke="#555" stroke-width="0.75"/>
<text x="631.6" y="378.80" class="ax" textLength="21.6" lengthAdjust="spacingAndGlyphs">1.209</text>
<line x1="627" y1="398.40" x2="629.8" y2="398.40" stroke="#555" stroke-width="0.75"/>
<text x="631.6" y="401.80" class="ax" textLength="21.6" lengthAdjust="spacingAndGlyphs">0.390</text>
<line x1="627" y1="420.40" x2="629.8" y2="420.40" stroke="#555" stroke-width="0.75"/>
<text x="631.6" y="423.80" class="ax" textLength="24.5" lengthAdjust="spacingAndGlyphs">-0.429</text>
<line x1="627" y1="442.60" x2="629.8" y2="442.60" stroke="#555" stroke-width="0.75"/>
<text x="631.6" y="446.00" class="ax" textLength="24.5" lengthAdjust="spacingAndGlyphs">-1.247</text>
<line x1="627" y1="473.40" x2="629.8" y2="473.40" stroke="#555" stroke-width="0.75"/>
<text x="631.6" y="476.30" class="ax" textLength="26.4" lengthAdjust="spacingAndGlyphs">95.740</text>
<line x1="627" y1="495.40" x2="629.8" y2="495.40" stroke="#555" stroke-width="0.75"/>
<text x="631.6" y="498.60" class="ax" textLength="26.4" lengthAdjust="spacingAndGlyphs">61.903</text>
<line x1="627" y1="518.20" x2="629.8" y2="518.20" stroke="#555" stroke-width="0.75"/>
<text x="631.6" y="521.30" class="ax" textLength="26.4" lengthAdjust="spacingAndGlyphs">28.066</text>
<line x1="627" y1="540.60" x2="629.8" y2="540.60" stroke="#555" stroke-width="0.75"/>
<text x="631.6" y="544.00" class="ax" textLength="24.5" lengthAdjust="spacingAndGlyphs">-5.771</text>
<line x1="627" y1="570.60" x2="629.8" y2="570.60" stroke="#555" stroke-width="0.75"/>
<text x="631.6" y="574.00" class="ax" textLength="26.4" lengthAdjust="spacingAndGlyphs">76.051</text>
<line x1="627" y1="593.40" x2="629.8" y2="593.40" stroke="#555" stroke-width="0.75"/>
<text x="631.6" y="596.80" class="ax" textLength="26.4" lengthAdjust="spacingAndGlyphs">50.470</text>
<line x1="627" y1="615.30" x2="629.8" y2="615.30" stroke="#555" stroke-width="0.75"/>
<text x="631.6" y="618.70" class="ax" textLength="26.4" lengthAdjust="spacingAndGlyphs">24.890</text>
<line x1="627" y1="637.50" x2="629.8" y2="637.50" stroke="#555" stroke-width="0.75"/>
<text x="631.6" y="640.90" class="ax" textLength="24.5" lengthAdjust="spacingAndGlyphs">-0.691</text>
<rect x="628" y="159" width="50" height="13.2" fill="#f31507"/>
<line x1="627" y1="165.4" x2="630" y2="165.4" stroke="#fff" stroke-width="1" opacity="0.8"/>
<text x="632.5" y="168.6" class="ax" style="fill:#fff;stroke:#fff" textLength="31.2" lengthAdjust="spacingAndGlyphs">134.293</text>
<line x1="96.5" y1="645" x2="96.5" y2="647.5" stroke="#333" stroke-width="1"/>
<text x="97.2" y="657.2" text-anchor="middle" style="font-size:9.6px;stroke-width:0.2px" fill="#111" stroke="#111">2月</text>
<line x1="276.5" y1="645" x2="276.5" y2="647.5" stroke="#333" stroke-width="1"/>
<text x="277.2" y="657.2" text-anchor="middle" style="font-size:9.6px;stroke-width:0.2px" fill="#111" stroke="#111">3月</text>
<line x1="483.5" y1="645" x2="483.5" y2="647.5" stroke="#333" stroke-width="1"/>
<text x="484.2" y="657.2" text-anchor="middle" style="font-size:9.6px;stroke-width:0.2px" fill="#111" stroke="#111">4月</text>
</g>
<g id="info" class="t12">
<text x="11.80" y="50" fill="#222" stroke="#222">开</text>
<text x="24.18" y="50" fill="#222" stroke="#222">:</text>
<text x="29.26" y="50" fill="#ff3020" stroke="#ff3020" textLength="44.50" lengthAdjust="spacingAndGlyphs">134.084</text>
<text x="82.60" y="50" fill="#222" stroke="#222">高</text>
<text x="94.58" y="50" fill="#222" stroke="#222">:</text>
<text x="99.36" y="50" fill="#ff3020" stroke="#ff3020" textLength="44.58" lengthAdjust="spacingAndGlyphs">134.293</text>
<text x="153.00" y="50" fill="#222" stroke="#222">低</text>
<text x="165.43" y="50" fill="#222" stroke="#222">:</text>
<text x="170.47" y="50" fill="#ff3020" stroke="#ff3020" textLength="44.00" lengthAdjust="spacingAndGlyphs">133.949</text>
<text x="223.60" y="50" fill="#222" stroke="#222">收</text>
<text x="235.83" y="50" fill="#222" stroke="#222">:</text>
<text x="240.57" y="50" fill="#ff3020" stroke="#ff3020" textLength="44.27" lengthAdjust="spacingAndGlyphs">134.293</text>
<text x="12.37" y="64" fill="#f0508a" stroke="#f0508a" textLength="26.98" lengthAdjust="spacingAndGlyphs">MA5</text>
<text x="39.43" y="64" fill="#f0508a" stroke="#f0508a">:</text>
<text x="47.96" y="64" fill="#f0508a" stroke="#f0508a" textLength="44.40" lengthAdjust="spacingAndGlyphs">133.814</text>
<text x="102.05" y="64" fill="#35c4dd" stroke="#35c4dd" textLength="33.45" lengthAdjust="spacingAndGlyphs">MA10</text>
<text x="135.33" y="64" fill="#35c4dd" stroke="#35c4dd">:</text>
<text x="144.05" y="64" fill="#35c4dd" stroke="#35c4dd" textLength="44.97" lengthAdjust="spacingAndGlyphs">133.332</text>
<text x="198.06" y="64" fill="#b25ccf" stroke="#b25ccf" textLength="33.03" lengthAdjust="spacingAndGlyphs">MA20</text>
<text x="230.93" y="64" fill="#b25ccf" stroke="#b25ccf">:</text>
<text x="240.18" y="64" fill="#b25ccf" stroke="#b25ccf" textLength="43.82" lengthAdjust="spacingAndGlyphs">132.541</text>
<text x="11.95" y="367.5" fill="#f23a2c" stroke="#f23a2c" textLength="37.56" lengthAdjust="spacingAndGlyphs">MACD</text>
<text x="49.93" y="367.5" fill="#f23a2c" stroke="#f23a2c">:</text>
<text x="54.21" y="367.5" fill="#f23a2c" stroke="#f23a2c" textLength="31.28" lengthAdjust="spacingAndGlyphs">0.000</text>
<text x="94.04" y="367.5" fill="#3a9bf0" stroke="#3a9bf0" textLength="25.92" lengthAdjust="spacingAndGlyphs">DIFF</text>
<text x="119.73" y="367.5" fill="#3a9bf0" stroke="#3a9bf0">:</text>
<text x="123.92" y="367.5" fill="#3a9bf0" stroke="#3a9bf0" textLength="30.86" lengthAdjust="spacingAndGlyphs">0.000</text>
<text x="164.24" y="367.5" fill="#ff6a13" stroke="#ff6a13" textLength="23.98" lengthAdjust="spacingAndGlyphs">DEA</text>
<text x="188.13" y="367.5" fill="#ff6a13" stroke="#ff6a13">:</text>
<text x="192.62" y="367.5" fill="#ff6a13" stroke="#ff6a13" textLength="30.76" lengthAdjust="spacingAndGlyphs">0.000</text>
<text x="11.90" y="465.6" fill="#35c4dd" stroke="#35c4dd" textLength="8.95" lengthAdjust="spacingAndGlyphs">K</text>
<text x="20.93" y="465.6" fill="#35c4dd" stroke="#35c4dd">:</text>
<text x="24.97" y="465.6" fill="#35c4dd" stroke="#35c4dd" textLength="44.11" lengthAdjust="spacingAndGlyphs">100.000</text>
<text x="77.86" y="465.6" fill="#8a52c8" stroke="#8a52c8" textLength="10.00" lengthAdjust="spacingAndGlyphs">D</text>
<text x="87.43" y="465.6" fill="#8a52c8" stroke="#8a52c8">:</text>
<text x="92.15" y="465.6" fill="#8a52c8" stroke="#8a52c8" textLength="45.24" lengthAdjust="spacingAndGlyphs">100.000</text>
<text x="146.24" y="465.6" fill="#5cb85c" stroke="#5cb85c" textLength="5.12" lengthAdjust="spacingAndGlyphs">J</text>
<text x="151.73" y="465.6" fill="#5cb85c" stroke="#5cb85c">:</text>
<text x="156.06" y="465.6" fill="#5cb85c" stroke="#5cb85c" textLength="44.62" lengthAdjust="spacingAndGlyphs">100.000</text>
<text x="12.04" y="562.9" fill="#ff7a2a" stroke="#ff7a2a" textLength="33.68" lengthAdjust="spacingAndGlyphs">RSI(6)</text>
<text x="45.53" y="562.9" fill="#ff7a2a" stroke="#ff7a2a">:</text>
<text x="50.01" y="562.9" fill="#ff7a2a" stroke="#ff7a2a" textLength="31.38" lengthAdjust="spacingAndGlyphs">0.000</text>
<text x="90.03" y="562.9" fill="#b04fd0" stroke="#b04fd0" textLength="40.60" lengthAdjust="spacingAndGlyphs">RSI(12)</text>
<text x="130.53" y="562.9" fill="#b04fd0" stroke="#b04fd0">:</text>
<text x="134.81" y="562.9" fill="#b04fd0" stroke="#b04fd0" textLength="31.28" lengthAdjust="spacingAndGlyphs">0.000</text>
<text x="174.57" y="562.9" fill="#5cb85c" stroke="#5cb85c" textLength="43.31" lengthAdjust="spacingAndGlyphs">RSI(24)</text>
<text x="217.23" y="562.9" fill="#5cb85c" stroke="#5cb85c">:</text>
<text x="220.32" y="562.9" fill="#5cb85c" stroke="#5cb85c" textLength="30.66" lengthAdjust="spacingAndGlyphs">0.000</text>
</g>
</svg>
</body>
</html>
